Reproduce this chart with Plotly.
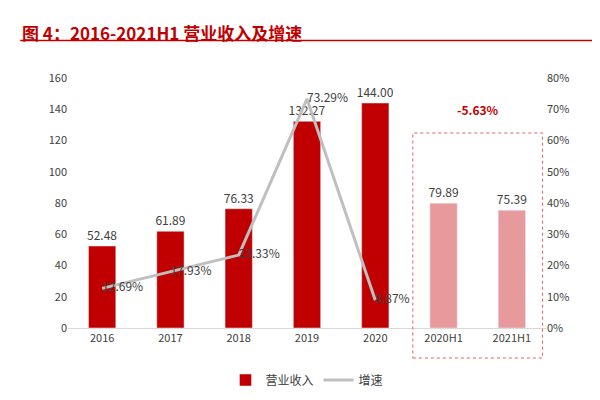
import plotly.graph_objects as go

years = ["2016", "2017", "2018", "2019", "2020", "2020H1", "2021H1"]
revenue = [52.48, 61.89, 76.33, 132.27, 144.00, 79.89, 75.39]
growth_years = ["2016", "2017", "2018", "2019", "2020"]
growth = [12.69, 17.93, 23.33, 73.29, 8.87]
bar_colors = ["#C00000"] * 5 + ["#E8999B"] * 2

fig = go.Figure()
fig.add_trace(go.Bar(
    x=years, y=revenue, name="营业收入", marker_color=bar_colors, width=0.4,
    text=[f"{v:.2f}" for v in revenue], textposition="outside", constraintext="none",
    textangle=0, textfont=dict(size=12, color="#404040"), cliponaxis=False,
))
fig.add_trace(go.Scatter(
    x=growth_years, y=growth, name="增速", yaxis="y2", mode="lines+text",
    line=dict(color="#BFBFBF", width=3),
    text=[f"{v:.2f}%" for v in growth], textposition="middle right",
    textfont=dict(size=12, color="#404040"),
))

# dotted box around the half-year bars
fig.add_shape(type="rect", xref="x", yref="paper", x0=4.55, x1=6.45, y0=-0.12, y1=0.78,
              line=dict(color="#E06060", width=1, dash="dot"))
fig.add_annotation(x=5.5, y=140, text="<b>-5.63%</b>", showarrow=False,
                   font=dict(size=12, color="#C00000"))

fig.add_annotation(xref="paper", yref="paper", x=-0.1, y=1.24, xanchor="left",
                   text="<b>图 4：2016-2021H1 营业收入及增速</b>", showarrow=False,
                   font=dict(size=17, color="#C00000"))
fig.add_shape(type="line", xref="paper", yref="paper", x0=-0.1, x1=1.12, y0=1.15, y1=1.15,
              line=dict(color="#C00000", width=1.5))
fig.add_shape(type="line", xref="paper", yref="paper", x0=-0.1, x1=1.12, y0=-0.3, y1=-0.3,
              line=dict(color="#404040", width=1))

fig.update_layout(
    width=600, height=400, plot_bgcolor="white", paper_bgcolor="white",
    margin=dict(l=60, r=62, t=70, b=80),
    font=dict(family="Noto Sans CJK SC", size=11, color="#404040"),
    bargap=0.5,
    xaxis=dict(showline=True, linecolor="#D9D9D9", ticks=""),
    yaxis=dict(range=[0, 160], dtick=20, showgrid=False, zeroline=False),
    yaxis2=dict(range=[0, 80], dtick=10, overlaying="y", side="right",
                ticksuffix="%", showgrid=False, zeroline=False),
    legend=dict(orientation="h", x=0.5, xanchor="center", y=-0.15, yanchor="top",
                font=dict(size=12)),
)
fig.write_html("out.html")
